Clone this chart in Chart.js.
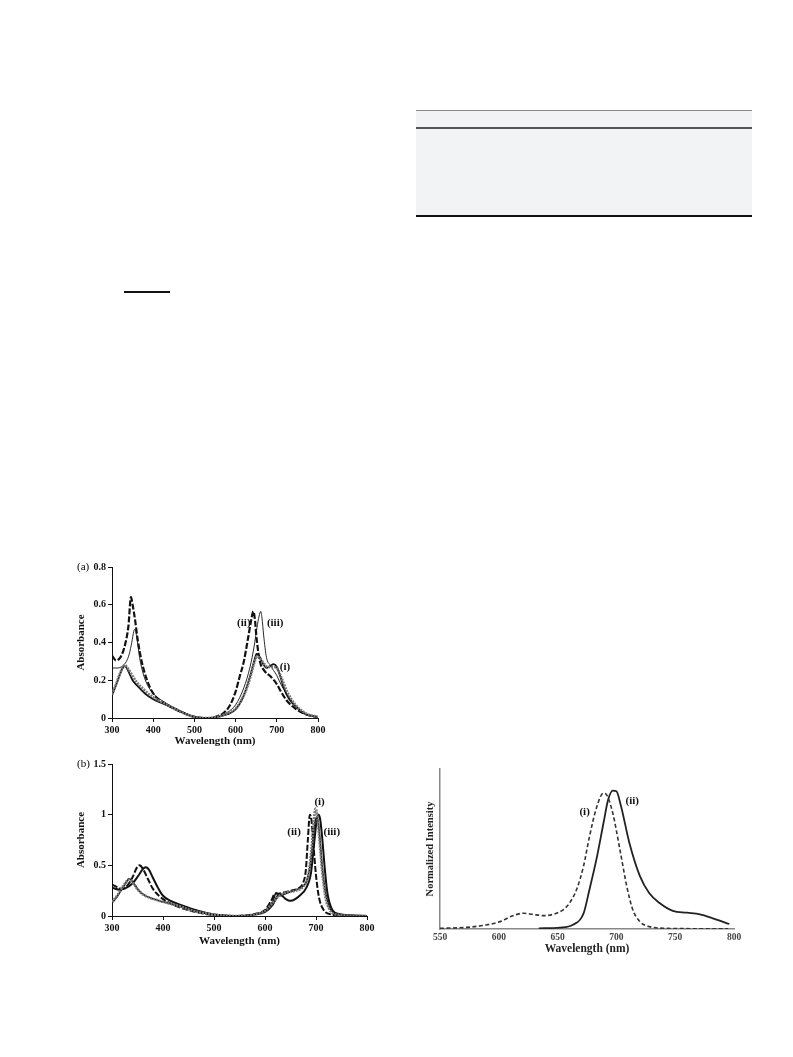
<!DOCTYPE html>
<html>
<head>
<meta charset="utf-8">
<script src="https://cdn.jsdelivr.net/npm/chart.js@4.4.1/dist/chart.umd.min.js"></script>
<style>
body{margin:0;background:#fff;width:793px;height:1057px;position:relative;overflow:hidden;font-family:"Liberation Serif",serif;color:#000;}
canvas{position:absolute;}
.rule{position:absolute;}
</style>
</head>
<body>
<div class="rule" style="left:416px;top:110px;width:336px;height:106px;background:#f2f3f5"></div>
<div class="rule" style="left:416px;top:110px;width:336px;height:1px;background:#8a8a8a"></div>
<div class="rule" style="left:416px;top:127px;width:336px;height:1.5px;background:#555"></div>
<div class="rule" style="left:416px;top:215px;width:336px;height:1.5px;background:#111"></div>
<div class="rule" style="left:124px;top:291px;width:46px;height:1.5px;background:#111"></div>

<canvas id="chartA" width="255" height="191" style="left:75px;top:557px"></canvas>
<canvas id="chartB" width="304" height="194" style="left:75px;top:754px"></canvas>
<canvas id="chartC" width="322" height="193" style="left:424px;top:763px"></canvas>

<script>
// ---- (a) absorbance ----
const aWl_ii  = [300,310,320,328,335,340,346,350,356,362,372,385,400,430,460,490,510,530,550,570,586,600,610,620,630,638,643,647,651,659,670,685,700,710,725,745,770,800];
const aAbs_ii = [0.33,0.305,0.32,0.36,0.42,0.49,0.64,0.6,0.52,0.42,0.3,0.2,0.13,0.075,0.04,0.012,0.002,0,0.005,0.025,0.066,0.14,0.22,0.3,0.42,0.52,0.565,0.52,0.42,0.3,0.25,0.22,0.18,0.14,0.09,0.05,0.02,0.005];

const aWl_iii  = [300,315,325,335,342,348,353,356,360,367,375,385,400,430,460,490,510,530,555,580,600,620,635,645,652,657,661,664,668,675,684,700,712,725,740,757,780,800];
const aAbs_iii = [0.265,0.265,0.275,0.3,0.34,0.4,0.46,0.47,0.43,0.32,0.24,0.18,0.13,0.08,0.045,0.015,0.003,0,0.005,0.03,0.07,0.16,0.27,0.38,0.48,0.54,0.565,0.53,0.44,0.32,0.28,0.225,0.17,0.125,0.08,0.04,0.012,0.005];

const aWl_i  = [300,310,320,326,331,338,348,360,375,400,430,460,490,510,530,555,580,600,620,635,645,652,658,668,678,690,700,710,725,745,770,800];
const aAbs_i = [0.125,0.18,0.24,0.27,0.28,0.265,0.23,0.19,0.155,0.11,0.075,0.04,0.012,0.002,0,0.005,0.025,0.05,0.12,0.21,0.29,0.325,0.32,0.29,0.27,0.27,0.265,0.22,0.14,0.07,0.025,0.005];

const aWl_iv  = [300,310,320,326,331,338,350,362,380,400,430,460,490,510,530,555,580,600,620,635,645,651,658,666,675,684,692,700,710,716,730,748,770,790,800];
const aAbs_iv = [0.12,0.175,0.235,0.265,0.275,0.255,0.2,0.17,0.13,0.1,0.07,0.04,0.012,0.002,0,0.005,0.02,0.045,0.12,0.22,0.3,0.34,0.325,0.29,0.266,0.275,0.285,0.27,0.21,0.165,0.1,0.057,0.02,0.008,0.003];

const aTicksX = [300,400,500,600,700,800];
const aTicksY = [0,0.2,0.4,0.6,0.8];
const aLabels = [
    {text:"(ii)", x:620, y:0.50},
    {text:"(iii)", x:696, y:0.50},
    {text:"(i)", x:720, y:0.27}
];

// ---- (b) absorbance ----
const bWl_ii  = [300,310,318,330,340,348,354,360,370,380,392,405,430,460,490,520,540,560,580,600,612,620,626,635,650,665,675,680,684,688,691,695,700,706,715,730,760,800];
const bAbs_ii = [0.31,0.285,0.27,0.3,0.38,0.47,0.5,0.47,0.37,0.27,0.2,0.15,0.09,0.045,0.015,0.003,0,0.005,0.02,0.06,0.15,0.22,0.22,0.23,0.25,0.27,0.33,0.45,0.75,1.0,0.95,0.7,0.4,0.18,0.06,0.015,0.003,0];

const bWl_iii  = [300,315,325,340,352,360,366,372,380,390,400,415,440,470,500,530,550,580,600,615,625,630,640,650,660,670,680,690,696,701,705,708,712,717,722,730,745,800];
const bAbs_iii = [0.28,0.26,0.27,0.32,0.4,0.46,0.48,0.46,0.38,0.28,0.2,0.15,0.1,0.05,0.015,0.002,0,0.015,0.04,0.11,0.2,0.21,0.17,0.15,0.17,0.21,0.27,0.42,0.7,0.93,1.0,0.96,0.78,0.48,0.24,0.08,0.02,0];

const bWl_i  = [300,310,320,328,334,342,352,365,380,400,430,460,490,520,550,580,600,615,628,640,660,675,685,692,696,699,702,706,712,718,726,740,800];
const bAbs_i = [0.14,0.2,0.28,0.34,0.36,0.32,0.25,0.2,0.17,0.14,0.1,0.05,0.02,0.003,0,0.015,0.05,0.13,0.2,0.23,0.25,0.29,0.4,0.7,0.95,1.06,1.0,0.8,0.45,0.2,0.07,0.015,0];

const bWl_iv  = [300,310,320,328,333,340,350,362,380,400,430,460,490,520,550,580,600,615,622,630,640,655,670,682,690,696,700,703,707,712,718,726,740,800];
const bAbs_iv = [0.13,0.19,0.27,0.33,0.37,0.34,0.27,0.21,0.17,0.14,0.1,0.055,0.02,0.003,0,0.015,0.05,0.14,0.23,0.2,0.22,0.25,0.28,0.35,0.55,0.85,0.97,0.96,0.8,0.5,0.25,0.09,0.02,0];

const bTicksX = [300,400,500,600,700,800];
const bTicksY = [0,0.5,1,1.5];
const bLabels = [
    {text:"(i)", x:707, y:1.12},
    {text:"(ii)", x:657, y:0.83},
    {text:"(iii)", x:731, y:0.83}
];

// ---- (c) normalized emission ----
const cWl_i  = [550,573,590,601,612,621,629,638,646,655,660,666,672,677,683,689,692,697,703,709,714,720,728,743,770,795];
const cInt_i = [0.005,0.012,0.03,0.053,0.096,0.113,0.105,0.096,0.105,0.14,0.185,0.28,0.45,0.66,0.87,0.976,0.96,0.83,0.57,0.3,0.137,0.053,0.017,0.005,0.002,0.001];

const cWl_ii  = [634,652,663,672,677,683,689,693,697,700,704,711,720,728,737,748,760,771,782,796];
const cInt_ii = [0.005,0.01,0.03,0.11,0.28,0.5,0.76,0.93,0.995,0.99,0.88,0.62,0.38,0.257,0.185,0.13,0.117,0.105,0.077,0.036];

const cTicksX = [550,600,650,700,750,800];
const cLabels = [
    {text:"(i)", x:673, y:0.84},
    {text:"(ii)", x:713.5, y:0.916}
];

const serif = '"Liberation Serif", "Times New Roman", serif';

function pts(xs, ys){
    return xs.map((v, k) => ({x:v, y:ys[k]}));
}

// curve tags at data coords, panel tag at the canvas top-left corner
const curveLabels = {
    id:"curveLabels",
    afterDatasetsDraw(chart, args, opts){
        const ctx = chart.ctx;
        const sx = chart.scales.x;
        const sy = chart.scales.y;
        ctx.save();
        ctx.font = "bold 11px " + serif;
        ctx.fillStyle = "#111";
        ctx.textAlign = "center";
        ctx.textBaseline = "middle";
        (opts.items || []).forEach(it => {
            ctx.fillText(it.text, sx.getPixelForValue(it.x), sy.getPixelForValue(it.y));
        });
        if (opts.tag) {
            ctx.font = "11px " + serif;
            ctx.fillStyle = "#000";
            ctx.textAlign = "left";
            ctx.fillText(opts.tag, 2, chart.chartArea.top);
        }
        ctx.restore();
    }
};

function line(data, color, width, dash){
    return {
        data:data,
        borderColor:color,
        borderWidth:width,
        borderDash:dash || [],
        pointRadius:0,
        fill:false,
        cubicInterpolationMode:"monotone"
    };
}

function absorbanceChart(id, tag, sets, ticksX, ticksY, yMax, labels, axisH){
    new Chart(document.getElementById(id), {
        type:"line",
        data:{datasets:sets},
        plugins:[curveLabels],
        options:{
            responsive:false,
            animation:false,
            devicePixelRatio:1,
            layout:{padding:{top:10, right:12, left:0, bottom:0}},
            plugins:{
                legend:{display:false},
                tooltip:{enabled:false},
                curveLabels:{items:labels, tag:tag}
            },
            scales:{
                x:{
                    type:"linear",
                    min:300, max:800,
                    afterBuildTicks:s => { s.ticks = ticksX.map(v => ({value:v})); },
                    afterFit:s => { s.height = axisH; },
                    grid:{display:true, drawOnChartArea:false, tickLength:4, color:"#111"},
                    border:{display:true, color:"#111", width:1},
                    ticks:{padding:2, maxRotation:0, autoSkip:false, color:"#111",
                        font:{family:serif, size:10, weight:"bold"},
                        callback:v => String(v)},
                    title:{display:true, text:"Wavelength (nm)", color:"#111", padding:0,
                        font:{family:serif, size:11, weight:"bold"}}
                },
                y:{
                    type:"linear",
                    min:0, max:yMax,
                    afterBuildTicks:s => { s.ticks = ticksY.map(v => ({value:v})); },
                    afterFit:s => { s.width = 37; },
                    grid:{display:true, drawOnChartArea:false, tickLength:4, color:"#111"},
                    border:{display:true, color:"#111", width:1},
                    ticks:{padding:2, color:"#111",
                        font:{family:serif, size:10, weight:"bold"},
                        callback:v => String(v)},
                    title:{display:true, text:"Absorbance", color:"#111", padding:0,
                        font:{family:serif, size:11, weight:"bold"}}
                }
            }
        }
    });
}

absorbanceChart("chartA", "(a)", [
    line(pts(aWl_i, aAbs_i), "#777", 2.6, [2, 1]),
    line(pts(aWl_iv, aAbs_iv), "#111", 1.8),
    line(pts(aWl_iii, aAbs_iii), "#111", 0.9),
    line(pts(aWl_ii, aAbs_ii), "#111", 2.2, [6, 2])
], aTicksX, aTicksY, 0.8, aLabels, 30);

absorbanceChart("chartB", "(b)", [
    line(pts(bWl_i, bAbs_i), "#777", 2.6, [2, 1]),
    line(pts(bWl_iv, bAbs_iv), "#111", 1.6),
    line(pts(bWl_iii, bAbs_iii), "#111", 2),
    line(pts(bWl_ii, bAbs_ii), "#111", 2, [6, 2])
], bTicksX, bTicksY, 1.5, bLabels, 32);

new Chart(document.getElementById("chartC"), {
    type:"line",
    data:{datasets:[
        line(pts(cWl_i, cInt_i), "#333", 1.6, [4, 2.5]),
        line(pts(cWl_ii, cInt_ii), "#222", 1.8)
    ]},
    plugins:[curveLabels],
    options:{
        responsive:false,
        animation:false,
        devicePixelRatio:1,
        layout:{padding:{top:6, right:12, left:0, bottom:0}},
        plugins:{
            legend:{display:false},
            tooltip:{enabled:false},
            curveLabels:{items:cLabels}
        },
        scales:{
            x:{
                type:"linear",
                min:550, max:800,
                afterBuildTicks:s => { s.ticks = cTicksX.map(v => ({value:v})); },
                afterFit:s => { s.height = 27; },
                grid:{display:false, drawTicks:false, tickLength:0},
                border:{display:true, color:"#888", width:1.5},
                ticks:{padding:3, maxRotation:0, autoSkip:false, color:"#444",
                    font:{family:serif, size:9.5, weight:"bold"},
                    callback:v => String(v)},
                title:{display:true, text:"Wavelength (nm)", color:"#222", padding:0,
                    font:{family:serif, size:11.5, weight:"bold"}}
            },
            y:{
                type:"linear",
                min:0, max:1.15,
                afterFit:s => { s.width = 16; },
                grid:{display:false, drawTicks:false, tickLength:0},
                border:{display:true, color:"#888", width:1.5},
                ticks:{display:false},
                title:{display:true, text:"Normalized Intensity", color:"#222", padding:0,
                    font:{family:serif, size:10.5, weight:"bold"}}
            }
        }
    }
});
</script>
</body>
</html>
